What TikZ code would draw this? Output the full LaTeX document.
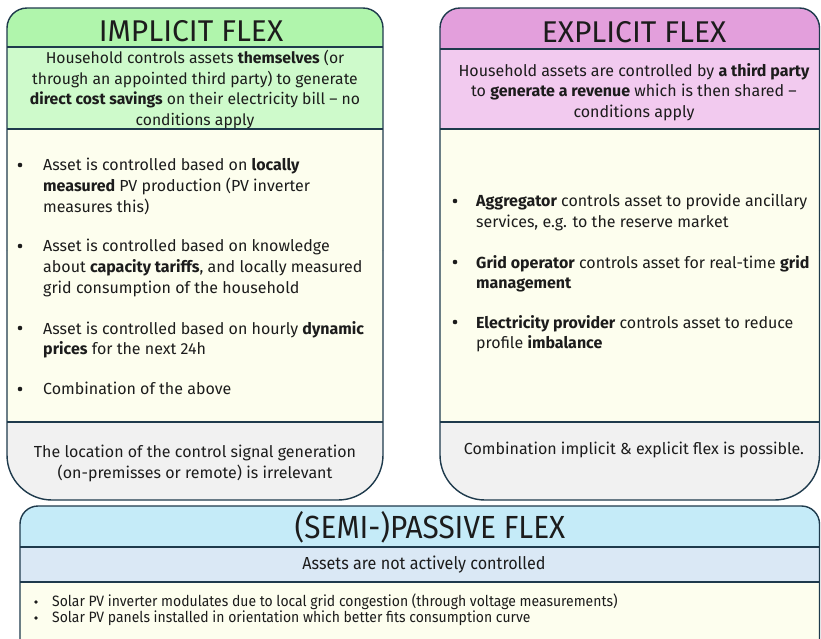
\documentclass[tikz,border=0pt]{standalone}
\usepackage{fontspec}
\setmainfont{Fira Sans}
\newfontfamily\narrowfont[FakeStretch=0.93]{Fira Sans}
\definecolor{bordc}{HTML}{1E3A4C}
\definecolor{txtc}{HTML}{1C1C1C}
\definecolor{greenT}{HTML}{B0F5AC}
\definecolor{greenD}{HTML}{CEFACB}
\definecolor{purpT}{HTML}{E39FDC}
\definecolor{purpD}{HTML}{F2CAEF}
\definecolor{blueT}{HTML}{C5EBF8}
\definecolor{blueD}{HTML}{DAE8F5}
\definecolor{creamc}{HTML}{FDFEEE}
\definecolor{grayc}{HTML}{F1F1F1}
\begin{document}
\begin{tikzpicture}[x=1pt,y=-1pt,
  border/.style={draw=bordc, line width=1.4pt},
  sep/.style={draw=bordc, line width=1.1pt},
  ttl/.style={font=\fontsize{30}{34}\selectfont, inner sep=0pt, text=txtc},
  nttl/.style={font=\narrowfont\fontsize{32}{36}\selectfont, inner sep=0pt, text=txtc},
  desc/.style={font=\fontsize{16}{20.7}\selectfont, align=center, inner sep=0pt, anchor=north, text=txtc},
  ndesc/.style={font=\narrowfont\fontsize{17.4}{20}\selectfont, align=center, inner sep=0pt, text=txtc},
  bul/.style={font=\fontsize{16}{20.8}\selectfont, align=left, inner sep=0pt, anchor=north west, text=txtc},
  nbul/.style={font=\narrowfont\fontsize{15}{16}\selectfont, align=left, inner sep=0pt, anchor=west, text=txtc},
  dotc/.style={circle, fill=txtc, inner sep=0pt, minimum size=4.6pt},
  ndotc/.style={circle, fill=txtc, inner sep=0pt, minimum size=3.6pt}
]
\clip (0,0) rectangle (821,638);
\fill[white] (0,0) rectangle (821,638);

% ---------- IMPLICIT FLEX ----------
\begin{scope}
  \clip[rounded corners=20pt] (7,8) rectangle (383,300);
  \fill[greenT] (7,8) rectangle (383,47);
  \fill[greenD] (7,47) rectangle (383,129);
\end{scope}
\fill[creamc] (7,129) rectangle (383,422);
\begin{scope}
  \clip[rounded corners=45pt] (7,200) rectangle (383,500);
  \fill[grayc] (7,422) rectangle (383,500);
\end{scope}
\draw[sep] (7,47) -- (383,47);
\draw[sep] (7,129) -- (383,129);
\draw[sep] (7,422) -- (383,422);
\draw[border, rounded corners=20pt] (7,250) -- (7,8) -- (383,8) -- (383,250);
\draw[border, rounded corners=45pt] (7,250) -- (7,500) -- (383,500) -- (383,250);

\node[ttl] (t1) at (191,31) {IMPLICIT FLEX};
\node[desc, font=\fontsize{15.7}{20.7}\selectfont] (d1) at (195,50) {Household controls assets \textbf{themselves} (or\\
through an appointed third party) to generate\\
\textbf{direct cost savings} on their electricity bill -- no\\
conditions apply};
\node[dotc] (p1a) at (20,165) {};
\node[bul] (b1a) at (43,158) {Asset is controlled based on \textbf{locally}\\
\textbf{measured} PV production (PV inverter\\
measures this)};
\node[dotc] (p1b) at (20,246) {};
\node[bul] (b1b) at (43,239) {Asset is controlled based on knowledge\\
about \textbf{capacity tariffs}, and locally measured\\
grid consumption of the household};
\node[dotc] (p1c) at (20,328) {};
\node[bul] (b1c) at (43,321) {Asset is controlled based on hourly \textbf{dynamic}\\
\textbf{prices} for the next 24h};
\node[dotc] (p1d) at (20,389) {};
\node[bul] (b1d) at (43,382) {Combination of the above};
\node[desc] (f1) at (195,445) {The location of the control signal generation\\
(on-premisses or remote) is irrelevant};

% ---------- EXPLICIT FLEX ----------
\begin{scope}
  \clip[rounded corners=20pt] (440,8) rectangle (819.5,300);
  \fill[purpT] (440,8) rectangle (819.5,49);
  \fill[purpD] (440,49) rectangle (819.5,129);
\end{scope}
\fill[creamc] (440,129) rectangle (819.5,422);
\begin{scope}
  \clip[rounded corners=45pt] (440,200) rectangle (819.5,500);
  \fill[grayc] (440,422) rectangle (819.5,500);
\end{scope}
\draw[sep] (440,49) -- (819.5,49);
\draw[sep] (440,129) -- (819.5,129);
\draw[sep] (440,422) -- (819.5,422);
\draw[border, rounded corners=20pt] (440,250) -- (440,8) -- (819.5,8) -- (819.5,250);
\draw[border, rounded corners=45pt] (440,250) -- (440,500) -- (819.5,500) -- (819.5,250);

\node[ttl] (t2) at (634,32) {EXPLICIT FLEX};
\node[desc] (d2) at (634,63) {Household assets are controlled by \textbf{a third party}\\
to \textbf{generate a revenue} which is then shared --\\
conditions apply};
\node[dotc] (p2a) at (455,201) {};
\node[bul] (b2a) at (476,194) {\textbf{Aggregator} controls asset to provide ancillary\\
services, e.g. to the reserve market};
\node[dotc] (p2b) at (455,262) {};
\node[bul] (b2b) at (476,255) {\textbf{Grid operator} controls asset for real-time \textbf{grid}\\
\textbf{management}};
\node[dotc] (p2c) at (455,322) {};
\node[bul] (b2c) at (476,315) {\textbf{Electricity provider} controls asset to reduce\\
profile \textbf{imbalance}};
\node[desc] (f2) at (634,442) {Combination implicit \& explicit flex is possible.};

% ---------- (SEMI-)PASSIVE FLEX ----------
\begin{scope}
  \clip[rounded corners=18pt] (20,506) rectangle (819.5,660);
  \fill[blueT] (20,506) rectangle (819.5,547);
  \fill[blueD] (20,547) rectangle (819.5,582);
  \fill[creamc] (20,582) rectangle (819.5,660);
\end{scope}
\draw[sep] (20,547) -- (819.5,547);
\draw[sep] (20,582) -- (819.5,582);
\draw[border, rounded corners=18pt] (20,506) rectangle (819.5,660);

\node[nttl] (t3) at (430,527) {(SEMI-)PASSIVE FLEX};
\node[ndesc] (d3) at (424,565) {Assets are not actively controlled};
\node[ndotc] (p3a) at (36,602) {};
\node[nbul] (b3a) at (52,602) {Solar PV inverter modulates due to local grid congestion (through voltage measurements)};
\node[ndotc] (p3b) at (36,618) {};
\node[nbul] (b3b) at (52,618) {Solar PV panels installed in orientation which better fits consumption curve};
\end{tikzpicture}
\end{document}
